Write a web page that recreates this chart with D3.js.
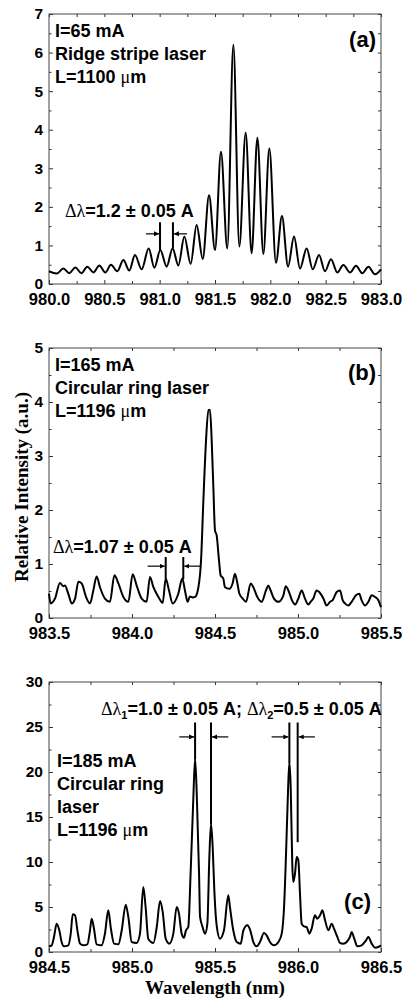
<!DOCTYPE html>
<html>
<head>
<meta charset="utf-8">
<script src="https://cdn.jsdelivr.net/npm/d3@7"></script>
<style>
  body { margin: 0; background: #fff; }
  svg { display: block; }
</style>
</head>
<body>
<div id="chart"></div>
<script>
// ---- data ----
const wlA = [980.000, 980.069, 980.130, 980.184, 980.238, 980.292, 980.346, 980.401, 980.455, 980.509,
  980.560, 980.617, 980.672, 980.726, 980.777, 980.837, 980.901, 980.952, 981.006, 981.063,
  981.117, 981.169, 981.223, 981.280, 981.334, 981.389, 981.446, 981.500, 981.554, 981.611,
  981.666, 981.720, 981.777, 981.831, 981.883, 981.937, 981.991, 982.051, 982.105, 982.160,
  982.214, 982.268, 982.328, 982.383, 982.440, 982.494, 982.548, 982.605, 982.660, 982.720,
  982.774, 982.831, 982.886, 982.946, 983.000];
const intA = [0.33, 0.27, 0.40, 0.28, 0.43, 0.28, 0.45, 0.30, 0.48, 0.30,
  0.50, 0.33, 0.62, 0.35, 0.75, 0.38, 0.92, 0.42, 0.88, 0.45,
  0.92, 0.48, 1.23, 0.52, 1.53, 0.65, 2.30, 0.88, 3.43, 0.92,
  6.20, 0.97, 3.92, 0.80, 3.79, 0.78, 3.51, 0.55, 1.76, 0.45,
  1.23, 0.40, 0.92, 0.38, 0.75, 0.33, 0.64, 0.30, 0.49, 0.30,
  0.47, 0.28, 0.45, 0.25, 0.38];

const wlB = [983.500, 983.510, 983.536, 983.566, 983.586, 983.596, 983.616, 983.637, 983.657, 983.677,
  983.697, 983.723, 983.747, 983.767, 983.787, 983.807, 983.837, 983.867, 983.894, 983.918,
  983.948, 983.978, 984.004, 984.028, 984.058, 984.088, 984.108, 984.129, 984.159, 984.185,
  984.203, 984.223, 984.245, 984.279, 984.303, 984.319, 984.335, 984.349, 984.365, 984.380,
  984.400, 984.416, 984.430, 984.446, 984.460, 984.470, 984.480, 984.490, 984.500, 984.510,
  984.524, 984.534, 984.550, 984.560, 984.586, 984.606, 984.620, 984.635, 984.647, 984.667,
  984.687, 984.715, 984.731, 984.755, 984.781, 984.807, 984.821, 984.835, 984.855, 984.882,
  984.912, 984.926, 984.942, 984.968, 984.982, 985.002, 985.022, 985.042, 985.062, 985.076,
  985.092, 985.112, 985.128, 985.153, 985.173, 985.193, 985.209, 985.233, 985.253, 985.269,
  985.283, 985.303, 985.323, 985.349, 985.369, 985.383, 985.404, 985.424, 985.444, 985.464,
  985.484, 985.500];
const intB = [0.45, 0.27, 0.36, 0.65, 0.59, 0.60, 0.45, 0.27, 0.36, 0.67,
  0.64, 0.39, 0.27, 0.51, 0.77, 0.57, 0.36, 0.30, 0.79, 0.64,
  0.39, 0.30, 0.81, 0.60, 0.36, 0.30, 0.76, 0.57, 0.39, 0.28,
  0.73, 0.51, 0.27, 0.45, 0.73, 0.51, 0.30, 0.40, 0.38, 0.39,
  0.57, 1.07, 2.18, 3.29, 3.85, 3.85, 3.29, 2.43, 1.62, 1.53,
  1.07, 0.79, 0.73, 0.57, 0.54, 0.64, 0.82, 0.64, 0.45, 0.36,
  0.30, 0.64, 0.57, 0.39, 0.30, 0.51, 0.60, 0.51, 0.36, 0.30,
  0.42, 0.59, 0.51, 0.30, 0.25, 0.36, 0.51, 0.36, 0.25, 0.30,
  0.36, 0.51, 0.48, 0.36, 0.23, 0.30, 0.33, 0.48, 0.51, 0.33,
  0.27, 0.23, 0.30, 0.42, 0.45, 0.33, 0.23, 0.30, 0.42, 0.39,
  0.33, 0.20];

const wlC = [984.500, 984.516, 984.530, 984.546, 984.562, 984.576, 984.590, 984.616, 984.631, 984.643,
  984.657, 984.671, 984.687, 984.707, 984.731, 984.747, 984.757, 984.771, 984.787, 984.817,
  984.837, 984.857, 984.873, 984.892, 984.918, 984.938, 984.962, 984.978, 984.998, 985.028,
  985.048, 985.068, 985.082, 985.098, 985.129, 985.149, 985.169, 985.185, 985.203, 985.225,
  985.249, 985.269, 985.283, 985.299, 985.313, 985.325, 985.339, 985.353, 985.369, 985.380,
  985.390, 985.404, 985.410, 985.424, 985.440, 985.454, 985.466, 985.476, 985.486, 985.496,
  985.510, 985.530, 985.554, 985.580, 985.590, 985.610, 985.631, 985.655, 985.671, 985.695,
  985.711, 985.731, 985.751, 985.771, 985.795, 985.811, 985.831, 985.855, 985.882, 985.902,
  985.916, 985.928, 985.940, 985.948, 985.956, 985.966, 985.972, 985.982, 985.992, 986.002,
  986.012, 986.022, 986.036, 986.052, 986.068, 986.082, 986.102, 986.116, 986.133, 986.147,
  986.163, 986.183, 986.203, 986.217, 986.237, 986.253, 986.273, 986.293, 986.313, 986.323,
  986.339, 986.357, 986.383, 986.410, 986.424, 986.444, 986.464, 986.484, 986.500];
const intC = [0.63, 0.74, 1.67, 3.15, 2.41, 1.11, 0.63, 0.74, 2.04, 4.19,
  4.07, 2.41, 0.93, 0.74, 0.85, 2.41, 3.70, 2.59, 0.85, 0.74,
  2.04, 4.63, 2.59, 0.93, 0.85, 2.41, 5.26, 3.89, 1.11, 1.00,
  2.04, 7.22, 5.00, 1.48, 1.00, 2.78, 5.67, 4.44, 1.48, 0.93,
  2.04, 5.00, 4.26, 2.04, 1.59, 2.41, 2.78, 8.70, 16.85, 21.48,
  17.59, 8.70, 3.89, 2.85, 2.04, 3.15, 10.56, 14.26, 11.67, 6.85,
  2.96, 1.48, 2.41, 6.30, 5.00, 2.41, 1.11, 0.93, 2.41, 2.96,
  2.48, 1.11, 0.63, 1.11, 2.11, 1.85, 1.11, 0.74, 1.11, 2.04,
  5.00, 10.93, 17.96, 21.11, 18.33, 9.44, 7.78, 8.70, 10.56, 10.19,
  6.48, 3.15, 2.85, 2.78, 2.04, 2.59, 4.07, 3.70, 4.07, 4.63,
  3.52, 2.41, 3.15, 2.59, 1.67, 1.00, 0.93, 1.11, 1.67, 2.22,
  1.48, 0.63, 0.74, 1.30, 1.67, 0.93, 0.48, 0.56, 0.74];

// ticks
const xTicksA = [980.0, 980.5, 981.0, 981.5, 982.0, 982.5, 983.0];
const xTicksB = [983.5, 984.0, 984.5, 985.0, 985.5];
const xTicksC = [984.5, 985.0, 985.5, 986.0, 986.5];
const yTicksA = [0, 1, 2, 3, 4, 5, 6, 7];
const yTicksB = [0, 1, 2, 3, 4, 5];
const yTicksC = [0, 5, 10, 15, 20, 25, 30];

// annotation text
const labelsA = ["I=65 mA", "Ridge stripe laser", "L=1100 \u03bcm"];
const labelsB = ["I=165 mA", "Circular ring laser", "L=1196 \u03bcm"];
const labelsC = ["I=185 mA", "Circular ring", "laser", "L=1196 \u03bcm"];

// spacing markers (peak positions, nm) and arrow spans
const marksA = [{x: 981.003, top: 1.6, bottom: 0.87}, {x: 981.12, top: 1.6, bottom: 0.92}];
const arrowsA = [{from: 980.876, to: 981.003, y: 1.3}, {from: 981.247, to: 981.12, y: 1.3}];
const marksB = [{x: 984.203, top: 1.13, bottom: 0.73}, {x: 984.309, top: 1.13, bottom: 0.72}];
const arrowsB = [{from: 984.094, to: 984.203, y: 0.96}, {from: 984.416, to: 984.309, y: 0.96}];
const marksC = [{x: 985.380, top: 25.5, bottom: 21.4}, {x: 985.476, top: 25.5, bottom: 14.2},
  {x: 985.948, top: 25.5, bottom: 21.0}, {x: 985.998, top: 25.5, bottom: 12.2}];
const arrowsC = [{from: 985.285, to: 985.380, y: 23.9}, {from: 985.580, to: 985.476, y: 23.9},
  {from: 985.841, to: 985.948, y: 23.9}, {from: 986.102, to: 985.998, y: 23.9}];

const width = 403, height = 1000;
const left = 49, right = 381, panelH = 270;
const sans = "'Liberation Sans', Arial, sans-serif";
const serif = "'Liberation Serif', 'Times New Roman', serif";

const svg = d3.select('#chart').append('svg')
  .attr('width', width)
  .attr('height', height);

svg.append('defs').append('marker')
  .attr('id', 'head')
  .attr('viewBox', '0 0 10 10')
  .attr('refX', 10).attr('refY', 5)
  .attr('markerWidth', 5).attr('markerHeight', 5)
  .attr('markerUnits', 'userSpaceOnUse')
  .attr('orient', 'auto')
  .append('path').attr('d', 'M0,0L10,5L0,10z').attr('fill', '#000');

function minorsOf(ticks, step) {
  // halfway points between the major ticks
  const out = [];
  for (let i = 0; i < ticks.length - 1; i++) out.push(ticks[i] + step / 2);
  return out;
}

function styleAxis(g, size) {
  g.select('.domain').remove();
  g.selectAll('line').attr('stroke', '#333').attr('stroke-width', 1);
  g.selectAll('text')
    .attr('font-family', sans)
    .attr('font-weight', 'bold')
    .attr('font-size', size)
    .attr('fill', '#000');
}

function drawPanel(p) {
  const x = d3.scaleLinear().domain(p.xDomain).range([left, right]);
  const y = d3.scaleLinear().domain(p.yDomain).range([p.top + panelH, p.top]);
  const g = svg.append('g');
  const xStep = p.xTicks[1] - p.xTicks[0];
  const yStep = p.yTicks[1] - p.yTicks[0];
  const xMinor = minorsOf(p.xTicks, xStep);
  const yMinor = minorsOf(p.yTicks, yStep);

  // bottom + top
  g.append('g').attr('transform', `translate(0,${p.top + panelH})`)
    .call(d3.axisBottom(x).tickValues(p.xTicks).tickSize(-4).tickPadding(9).tickFormat(d3.format('.1f')))
    .call(a => styleAxis(a, 16.5));
  g.append('g').attr('transform', `translate(0,${p.top + panelH})`)
    .call(d3.axisBottom(x).tickValues(xMinor).tickSize(-3).tickFormat(''))
    .call(a => styleAxis(a, 10));
  g.append('g').attr('transform', `translate(0,${p.top})`)
    .call(d3.axisTop(x).tickValues(p.xTicks.concat(xMinor)).tickSize(-3).tickFormat(''))
    .call(a => styleAxis(a, 10));

  // left + right
  g.append('g').attr('transform', `translate(${left},0)`)
    .call(d3.axisLeft(y).tickValues(p.yTicks).tickSize(-4).tickPadding(6).tickFormat(d3.format('d')))
    .call(a => styleAxis(a, 15.5));
  g.append('g').attr('transform', `translate(${left},0)`)
    .call(d3.axisLeft(y).tickValues(yMinor).tickSize(-2.5).tickFormat(''))
    .call(a => styleAxis(a, 10));
  g.append('g').attr('transform', `translate(${right},0)`)
    .call(d3.axisRight(y).tickValues(p.yTicks.concat(yMinor)).tickSize(-3).tickFormat(''))
    .call(a => styleAxis(a, 10));

  g.append('rect')
    .attr('x', left).attr('y', p.top)
    .attr('width', right - left).attr('height', panelH)
    .attr('fill', 'none').attr('stroke', '#444').attr('stroke-width', 1);

  const pts = p.wl.map((w, i) => [w, p.val[i]]);
  g.append('path')
    .datum(pts)
    .attr('fill', 'none')
    .attr('stroke', '#000')
    .attr('stroke-width', 2)
    .attr('stroke-linejoin', 'round')
    .attr('d', d3.line().x(d => x(d[0])).y(d => y(d[1])).curve(d3.curveMonotoneX));

  // spacing markers
  g.selectAll('line.mark').data(p.marks).enter().append('line')
    .attr('x1', d => x(d.x)).attr('x2', d => x(d.x))
    .attr('y1', d => y(d.top)).attr('y2', d => y(d.bottom))
    .attr('stroke', '#000').attr('stroke-width', 2);
  g.selectAll('line.arrow').data(p.arrows).enter().append('line')
    .attr('x1', d => x(d.from)).attr('x2', d => x(d.to) + (d.to > d.from ? -1 : 1))
    .attr('y1', d => y(d.y)).attr('y2', d => y(d.y))
    .attr('stroke', '#000').attr('stroke-width', 1.2)
    .attr('marker-end', 'url(#head)');

  // condition labels
  g.selectAll('text.cond').data(p.labels).enter().append('text')
    .attr('x', p.labelX)
    .attr('y', (d, i) => p.top + p.labelY + i * 23)
    .attr('font-family', sans).attr('font-weight', 'bold').attr('font-size', 18)
    .each(function(d) {
      const t = d3.select(this);
      const k = d.indexOf('\u03bc');
      if (k < 0) { t.text(d); return; }
      t.append('tspan').text(d.slice(0, k));
      t.append('tspan').attr('font-weight', 'normal').attr('font-family', serif).text('\u03bc');
      t.append('tspan').text(d.slice(k + 1));
    });

  g.append('text')
    .attr('x', p.tagX).attr('y', p.top + p.tagY)
    .attr('text-anchor', 'end')
    .attr('font-family', sans).attr('font-weight', 'bold').attr('font-size', 22)
    .text(p.tag);

  const d = g.append('text')
    .attr('x', p.deltaX).attr('y', p.top + p.deltaY)
    .attr('font-family', sans).attr('font-weight', 'bold').attr('font-size', 18);
  p.delta.forEach(part => {
    const s = d.append('tspan').text(part.t);
    if (part.greek) s.attr('font-family', serif).attr('font-weight', 'normal');
    if (part.sub) s.attr('font-size', 11).attr('dy', 4);
    if (part.up) s.attr('dy', -4);
  });
}

drawPanel({
  top: 14, xDomain: [980, 983], yDomain: [0, 7],
  xTicks: xTicksA, yTicks: yTicksA, wl: wlA, val: intA,
  marks: marksA, arrows: arrowsA,
  labels: labelsA, labelX: 55, labelY: 23,
  tag: '(a)', tagX: 376, tagY: 33,
  deltaX: 65, deltaY: 203,
  delta: [{t: '\u0394\u03bb', greek: true}, {t: '=1.2 \u00b1  0.05 A'}]
});

drawPanel({
  top: 348, xDomain: [983.5, 985.5], yDomain: [0, 5],
  xTicks: xTicksB, yTicks: yTicksB, wl: wlB, val: intB,
  marks: marksB, arrows: arrowsB,
  labels: labelsB, labelX: 55, labelY: 23,
  tag: '(b)', tagX: 376, tagY: 32,
  deltaX: 53, deltaY: 205,
  delta: [{t: '\u0394\u03bb', greek: true}, {t: '=1.07 \u00b1  0.05 A'}]
});

drawPanel({
  top: 682, xDomain: [984.5, 986.5], yDomain: [0, 30],
  xTicks: xTicksC, yTicks: yTicksC, wl: wlC, val: intC,
  marks: marksC, arrows: arrowsC,
  labels: labelsC, labelX: 57, labelY: 85,
  tag: '(c)', tagX: 371, tagY: 227,
  deltaX: 101, deltaY: 33,
  delta: [{t: '\u0394\u03bb', greek: true}, {t: '1', sub: true}, {t: '=1.0 \u00b1  0.05 A; ', up: true},
    {t: '\u0394\u03bb', greek: true}, {t: '2', sub: true}, {t: '=0.5 \u00b1  0.05 A', up: true}]
});

// axis titles
svg.append('text')
  .attr('x', 215).attr('y', 994)
  .attr('text-anchor', 'middle')
  .attr('font-family', serif).attr('font-weight', 'bold').attr('font-size', 19)
  .text('Wavelength (nm)');

svg.append('text')
  .attr('transform', 'translate(28,487) rotate(-90)')
  .attr('text-anchor', 'middle')
  .attr('font-family', serif).attr('font-weight', 'bold').attr('font-size', 19)
  .text('Relative Intensity (a.u.)');
</script>
</body>
</html>
